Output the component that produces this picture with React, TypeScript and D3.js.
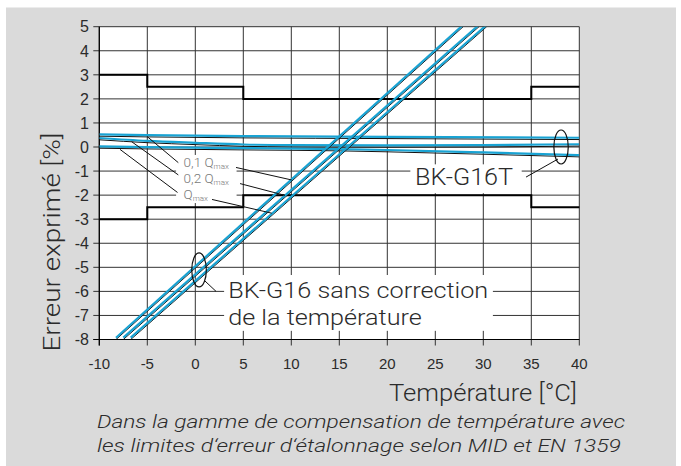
import React from 'react';
import * as d3 from 'd3';

// axis ticks
const tempTicks = [-10, -5, 0, 5, 10, 15, 20, 25, 30, 35, 40];
const errorTicks = [5, 4, 3, 2, 1, 0, -1, -2, -3, -4, -5, -6, -7, -8];

// MID / EN 1359 error limits [temp, error %]
const limitUpper: [number, number][] = [[-10, 3], [-5, 2.5], [5, 2], [35, 2.5], [40, 2.5]];
const limitLower: [number, number][] = [[-10, -3], [-5, -2.5], [5, -2], [35, -2.5], [40, -2.5]];

// BK-G16T (with temperature correction)
const g16t_01: [number, number][] = [[-10, 0.45], [-5, 0.42], [5, 0.38], [20, 0.35], [40, 0.31]];
const g16t_02: [number, number][] = [[-10, 0.3], [-5, 0.18], [0, 0.1], [5, 0.03], [10, 0.0], [20, -0.01], [30, 0.0], [40, 0.04]];
const g16t_max: [number, number][] = [[-10, -0.05], [-5, -0.08], [5, -0.12], [15, -0.16], [20, -0.2], [30, -0.3], [40, -0.41]];

// BK-G16 without correction
const g16_01: [number, number][] = [[-8.26, -8], [27.9, 5]];
const g16_02: [number, number][] = [[-7.5, -8], [29.55, 5]];
const g16_max: [number, number][] = [[-6.73, -8], [30.35, 5]];

const W = 681;
const H = 466;
const BLUE = '#19a3d3';
const TXT = '#2b2b2b';
const FONT = 'Roboto, "Open Sans", sans-serif';

export default function App() {
  const x = d3.scaleLinear().domain([-10, 40]).range([99.3, 579.3]);
  const y = d3.scaleLinear().domain([-8, 5]).range([339.5, 26.7]);
  const line = d3.line<[number, number]>().x(d => x(d[0])).y(d => y(d[1]));
  const smooth = d3.line<[number, number]>().x(d => x(d[0])).y(d => y(d[1])).curve(d3.curveMonotoneX);
  const step = d3.line<[number, number]>().x(d => x(d[0])).y(d => y(d[1])).curve(d3.curveStepAfter);

  const x0 = x(-10), x1 = x(40), y0 = y(-8), y1 = y(5);

  const curves = [
    smooth(g16t_01), smooth(g16t_02), smooth(g16t_max),
    line(g16_01), line(g16_02), line(g16_max),
  ];

  // leader lines, in data units
  const leaders: [number, number, number, number][] = [
    [-5.0, 0.43, -1.77, -0.65],
    [-6.63, 0.22, -1.77, -1.16],
    [-7.84, -0.1, -1.85, -1.89],
    [4.24, -0.85, 10.04, -1.37],
    [4.66, -1.52, 9.34, -2.01],
    [1.74, -2.18, 7.96, -2.75],
    [37.78, -0.5, 34.45, -1.25],
    [1.01, -5.57, 2.16, -6.0],
  ];

  const qLabels = [
    { pre: '0,1 Q', e: -0.82 },
    { pre: '0,2 Q', e: -1.49 },
    { pre: 'Q', e: -2.16 },
  ];

  return (
    <div style={{ position: 'absolute', left: 0, top: 0 }}>
      <svg width={W} height={H} style={{ display: 'block' }}>
        <rect x={0} y={0} width={W} height={H} fill="#fff" />
        <rect x={6} y={7.5} width={670} height={460} fill="#dadada" />
        <defs>
          <clipPath id="plot">
            <rect x={x0} y={y1} width={x1 - x0} height={y0 - y1} />
          </clipPath>
        </defs>
        <rect x={x0} y={y1} width={x1 - x0} height={y0 - y1} fill="#fff" />

        {/* grid */}
        {tempTicks.map(t => (
          <line key={'v' + t} x1={x(t)} x2={x(t)} y1={y1} y2={y0 + 6} stroke="#333" strokeWidth={1} />
        ))}
        {errorTicks.map(e => (
          <line key={'h' + e} x1={x0 - 6} x2={x1} y1={y(e)} y2={y(e)} stroke="#333" strokeWidth={1} />
        ))}
        <line x1={x0} x2={x0} y1={y1} y2={y0 + 6} stroke="#000" strokeWidth={1.2} />
        <line x1={x0 - 6} x2={x1} y1={y0} y2={y0} stroke="#000" strokeWidth={1.2} />

        {/* error limits */}
        <path d={step(limitUpper) || ''} fill="none" stroke="#000" strokeWidth={2} />
        <path d={step(limitLower) || ''} fill="none" stroke="#000" strokeWidth={2} />

        {/* label backgrounds */}
        <rect x={x(-2.0)} y={y(-0.33)} width={x(4.3) - x(-2.0)} height={y(-2.33) - y(-0.33)} fill="#fff" />
        <rect x={x(22.4)} y={y(-0.72)} width={x(34.0) - x(22.4)} height={y(-1.92) - y(-0.72)} fill="#fff" />
        <rect x={x(3.0)} y={y(-5.32)} width={x(31.0) - x(3.0)} height={y(-7.64) - y(-5.32)} fill="#fff" />

        {/* series */}
        <g clipPath="url(#plot)">
          {curves.map((d, i) => (
            <g key={i}>
              <path d={d || ''} fill="none" stroke="#111" strokeWidth={1} />
              <path d={d || ''} fill="none" stroke={BLUE} strokeWidth={2.2} transform="translate(0,-1.8)" />
            </g>
          ))}
        </g>

        {/* leaders */}
        {leaders.map((l, i) => (
          <line key={'l' + i} x1={x(l[0])} y1={y(l[1])} x2={x(l[2])} y2={y(l[3])} stroke="#111" strokeWidth={1} />
        ))}
        <ellipse cx={x(38.1)} cy={y(0.0)} rx={7.2} ry={17} fill="none" stroke="#111" strokeWidth={1.2} />
        <ellipse cx={x(0.39)} cy={y(-5.11)} rx={7.3} ry={17} fill="none" stroke="#111" strokeWidth={1.2} />

        {/* flow labels */}
        {qLabels.map(q => (
          <text key={q.pre} x={x(-1.22)} y={y(q.e)} fontFamily={FONT} fontWeight={300} fontSize={13.5} fill="#7a7a7a">
            {q.pre}
            <tspan fontSize={8} dy={2.5}>max</tspan>
          </text>
        ))}

        <g fontFamily={FONT} fontWeight={300} fill={TXT}>
          <text x={x(22.9)} y={y(-1.58)} textLength={98} lengthAdjust="spacingAndGlyphs" fontSize={23}>BK-G16T</text>
          <text x={x(3.43)} y={y(-6.29)} textLength={260} lengthAdjust="spacingAndGlyphs" fontSize={22.5}>
            BK-G16 sans correction
          </text>
          <text x={x(3.43)} y={y(-7.4)} textLength={193.5} lengthAdjust="spacingAndGlyphs" fontSize={22.5}>
            de la température
          </text>

          {/* axis titles */}
          <text transform="translate(60,242) rotate(-90)" textAnchor="middle" textLength={219}
            lengthAdjust="spacingAndGlyphs" fontSize={23}>
            Erreur exprimé [%]
          </text>
          <text x={577} y={400.7} textAnchor="end" textLength={188} lengthAdjust="spacingAndGlyphs" fontSize={23}>
            Température [°C]
          </text>
          <text x={97} y={428.3} textLength={528} lengthAdjust="spacingAndGlyphs" fontStyle="italic" fontSize={19}>
            Dans la gamme de compensation de température avec
          </text>
          <text x={97} y={451.7} textLength={524} lengthAdjust="spacingAndGlyphs" fontStyle="italic" fontSize={19}>
            les limites d‘erreur d‘étalonnage selon MID et EN 1359
          </text>
        </g>

        {/* tick labels */}
        {errorTicks.map(e => (
          <text key={'yl' + e} x={89} y={y(e)} dy="0.36em" textAnchor="end"
            fontFamily='"Liberation Sans", Arial, sans-serif' fontSize={16} fill={TXT}>{e}</text>
        ))}
        {tempTicks.map(t => (
          <text key={'xl' + t} x={x(t)} y={369} textAnchor="middle"
            fontFamily='"Liberation Sans", Arial, sans-serif' fontSize={15} fill={TXT}>{t}</text>
        ))}
      </svg>
    </div>
  );
}
